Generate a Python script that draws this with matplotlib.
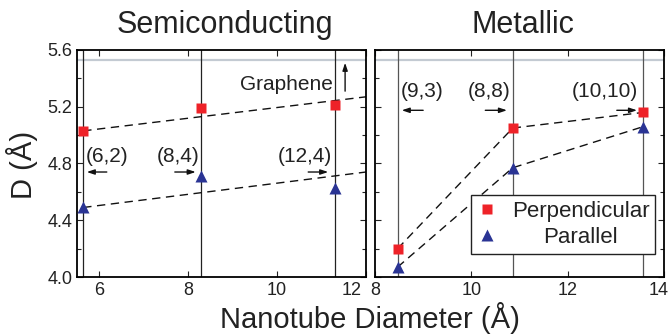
import matplotlib
matplotlib.use("Agg")
import matplotlib.pyplot as plt
import matplotlib.transforms as mtransforms
from matplotlib.ticker import MultipleLocator

plt.rcParams['font.family'] = ['Liberation Sans', 'DejaVu Sans']
plt.rcParams['text.color'] = '#222222'
plt.rcParams['xtick.color'] = '#222222'
plt.rcParams['ytick.color'] = '#222222'

# ---------------- data ----------------
semi_labels = ["(6,2)", "(8,4)", "(12,4)"]
semi_diam = [5.64, 8.29, 11.30]
semi_perp = [5.03, 5.19, 5.21]
semi_para = [4.49, 4.71, 4.63]
semi_fit_x = [5.64, 12.0]
semi_fit_perp = [5.03, 5.27]
semi_fit_para = [4.49, 4.74]

met_labels = ["(9,3)", "(8,8)", "(10,10)"]
met_diam = [8.47, 10.86, 13.57]
met_perp = [4.20, 5.05, 5.16]
met_para = [4.07, 4.77, 5.06]

graphene_d = 5.53

perp_color = '#ee2228'
para_color = '#2a3494'
graphene_color = '#c3cad2'

fig = plt.figure(figsize=(6.68, 3.35), dpi=100)
axL = fig.add_axes([77/668, 1-277/335, (366-77)/668, 227/335])
axR = fig.add_axes([375/668, 1-277/335, (664-375)/668, 227/335])

for ax in (axL, axR):
    ax.set_ylim(4.0, 5.6)
    ax.yaxis.set_major_locator(MultipleLocator(0.4))
    ax.yaxis.set_minor_locator(MultipleLocator(0.2))
    ax.tick_params(which='both', direction='in', top=True, right=True,
                   labelsize=13, width=0.8)
    ax.tick_params(which='major', length=4)
    ax.tick_params(which='minor', length=3)
    for s in ax.spines.values():
        s.set_linewidth(1.3)
    ax.axhline(graphene_d, color=graphene_color, lw=1.6, zorder=1)

axL.set_xlim(5.5, 12.0)
axL.set_xticks([6, 8, 10, 12])
axR.set_xlim(8, 14)
axR.set_xticks([8, 10, 12, 14])
axR.set_yticklabels([])

# vertical chirality lines
for x in semi_diam:
    axL.axvline(x, color='#222222', lw=0.9, zorder=1)
for x in met_diam:
    axR.axvline(x, color='#555555', lw=0.9, zorder=1)

# fits (semiconducting)
axL.plot(semi_fit_x, semi_fit_perp, ls=(0, (6, 4)), color='#111111', lw=1.0, zorder=2)
axL.plot(semi_fit_x, semi_fit_para, ls=(0, (6, 4)), color='#111111', lw=1.0, zorder=2)
axL.plot(semi_diam, semi_perp, 's', color=perp_color, ms=6.5, mec='none', zorder=3)
axL.plot(semi_diam, semi_para, '^', color=para_color, ms=8, mec='none', zorder=3)

# metallic connections
axR.plot(met_diam, met_perp, ls=(0, (6, 4)), color='#111111', lw=1.0, zorder=2)
axR.plot(met_diam, met_para, ls=(0, (6, 4)), color='#111111', lw=1.0, zorder=2)
hp, = axR.plot(met_diam, met_perp, 's', color=perp_color, ms=6.5, mec='none', zorder=3)
ht, = axR.plot(met_diam, met_para, '^', color=para_color, ms=8, mec='none', zorder=3)

arrow_kw = dict(arrowstyle='-|>,head_length=0.45,head_width=0.15', color='#111111', lw=1.0,
                shrinkA=0, shrinkB=0)
ann_fs = 15

# semiconducting labels
semi_text_x = [6.17, 7.78, 10.63]
semi_arrows = [(6.17, 5.72), (7.70, 8.17), (10.70, 11.15)]
for lab, tx, (a0, a1) in zip(semi_labels, semi_text_x, semi_arrows):
    axL.text(tx, 4.85, lab, ha='center', va='center', fontsize=ann_fs)
    axL.annotate('', xy=(a1, 4.74), xytext=(a0, 4.74), arrowprops=arrow_kw)

axL.text(10.22, 5.36, 'Graphene', ha='center', va='center', fontsize=ann_fs)
axL.annotate('', xy=(11.53, 5.51), xytext=(11.53, 5.31), arrowprops=arrow_kw)

# metallic labels
met_text_x = [8.98, 10.36, 12.78]
met_arrows = [(9.0, 8.555), (10.29, 10.74), (13.02, 13.44)]
for lab, tx, (a0, a1) in zip(met_labels, met_text_x, met_arrows):
    axR.text(tx, 5.31, lab, ha='center', va='center', fontsize=ann_fs)
    axR.annotate('', xy=(a1, 5.175), xytext=(a0, 5.175), arrowprops=arrow_kw)

leg = axR.legend([hp, ht], ['Perpendicular', 'Parallel'], loc='upper left',
                 bbox_to_anchor=((470.7-375)/289, (277-195)/227), borderaxespad=0,
                 fontsize=16, handlelength=1.0, handletextpad=0.6, borderpad=0.25,
                 labelspacing=0.25, fancybox=False, framealpha=1)
leg.get_frame().set_edgecolor('#222222')
leg.get_frame().set_linewidth(1.0)

fig.text(225/668, 1-33/335, 'Semiconducting', ha='center', va='baseline', fontsize=22)
fig.text(523/668, 1-33/335, 'Metallic', ha='center', va='baseline', fontsize=22)
fig.text(370/668, 1-318/335, 'Nanotube Diameter (Å)', ha='center', va='center', fontsize=21)
fig.text(22/668, 1-165/335, 'D (Å)', ha='center', va='center', rotation=90, fontsize=21)

# center "Parallel" under "Perpendicular"; shift end tick labels like the reference
fig.canvas.draw()
texts = leg.get_texts()
w0 = texts[0].get_window_extent().width
w1 = texts[1].get_window_extent().width
texts[1].set_position(((w0 - w1) / 2, 0))

lblL = axL.get_xticklabels()[-1]
lblL.set_ha('right')
lblL.set_transform(lblL.get_transform() + mtransforms.ScaledTranslation(-3/72, 0, fig.dpi_scale_trans))
lblR = axR.get_xticklabels()[-1]
lblR.set_ha('right')
lblR.set_transform(lblR.get_transform() + mtransforms.ScaledTranslation(3/72, 0, fig.dpi_scale_trans))

fig.savefig('out.png', dpi=100)
